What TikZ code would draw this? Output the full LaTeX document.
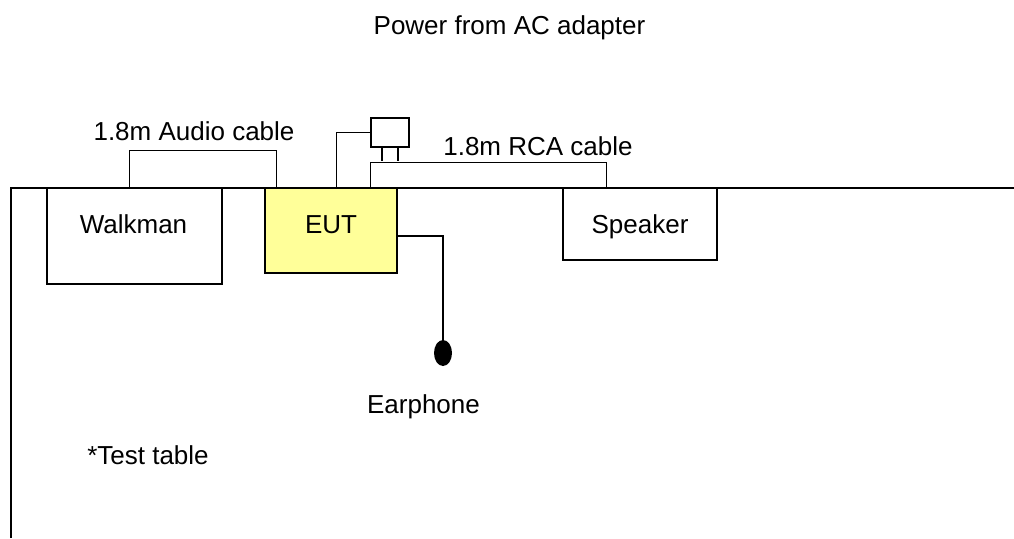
\documentclass[tikz,border=0pt]{standalone}
\usepackage{fontspec}
\setmainfont{Liberation Sans}
\usetikzlibrary{shapes.geometric}

\definecolor{eutyellow}{HTML}{FFFF99}

\tikzset{
    box/.style={draw, rectangle, line width=1.5pt, inner sep=0pt},
    wire/.style={line width=1.5pt},
    lbl/.style={anchor=base, inner sep=0pt, font=\fontsize{26}{30}\selectfont},
}

\begin{document}
\begin{tikzpicture}[x=1pt, y=-1pt]
    \useasboundingbox (0,0) rectangle (1014,538);

    % Test table edge
    \coordinate (T1) at (11,538);
    \coordinate (T2) at (11,188);
    \coordinate (T3) at (1014,188);
    \draw[wire] (T1) -- (T2) -- (T3);

    % Devices on the table
    \node[box, minimum width=175pt, minimum height=96pt] (walkman) at (134.5,236) {};
    \node[box, fill=eutyellow, minimum width=132pt, minimum height=85pt] (eut) at (331,230.5) {};
    \node[box, minimum width=154pt, minimum height=72pt] (speaker) at (640,224) {};
    \node[box, minimum width=38pt, minimum height=29pt] (adapter) at (390,132.5) {};
    \node[ellipse, fill=black, inner sep=0pt, minimum width=18pt, minimum height=26pt] (earphone) at (443,353) {};

    % Cables
    \draw[wire] ([xshift=83pt]walkman.north west) -- ++(0,-37) -| ([xshift=12pt]eut.north west);
    \draw[wire] ([xshift=72pt]eut.north west) |- (adapter.west);
    \draw[wire] ([xshift=-8pt]adapter.south) -- ++(0,13);
    \draw[wire] ([xshift=8pt]adapter.south) -- ++(0,13);
    \draw[wire] ([xshift=106pt]eut.north west) -- ++(0,-25) -| ([xshift=44pt]speaker.north west);
    \draw[wire] ([yshift=-5.5pt]eut.east) -| (earphone.north);

    % Labels
    \node[lbl] (powerlbl) at (509.5,34) {Power from AC adapter};
    \node[lbl] (audiolbl) at (194,140) {1.8m Audio cable};
    \node[lbl] (rcalbl) at (538,155) {1.8m RCA cable};
    \node[lbl] (walkmanlbl) at (133.5,233) {Walkman};
    \node[lbl] (eutlbl) at (331,233) {EUT};
    \node[lbl] (speakerlbl) at (640,233) {Speaker};
    \node[lbl] (earphonelbl) at (423.5,413) {Earphone};
    \node[lbl] (tablelbl) at (148,464) {*Test table};
\end{tikzpicture}
\end{document}
